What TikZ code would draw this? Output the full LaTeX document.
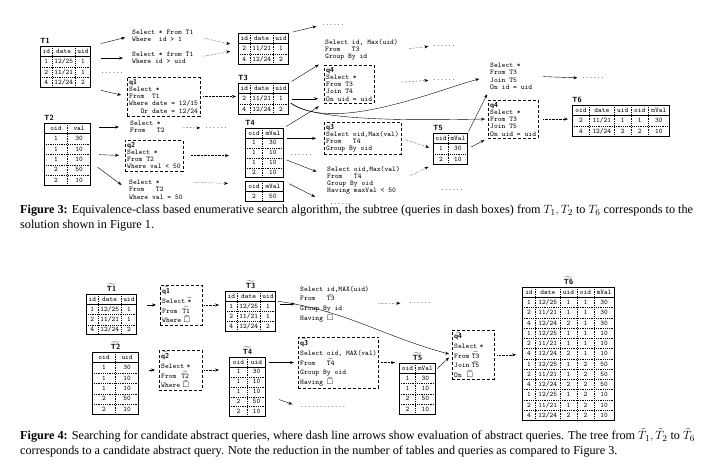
\documentclass[tikz,border=0pt]{standalone}
\usepackage{fontspec}
\setmainfont{Liberation Serif}
\usepackage{amsmath,amssymb}
\usepackage{arydshln}
\usepackage{tikz}
\usetikzlibrary{arrows.meta, positioning}

\newcommand{\tfont}{\ttfamily\fontsize{7}{10}\selectfont}
\newcommand{\qfont}{\ttfamily\fontsize{7.2}{7.2}\selectfont}
\newcommand{\qqfont}{\ttfamily\fontsize{7.2}{9.6}\selectfont}
\newcommand{\tb}[3]{{\setlength\tabcolsep{#1}\begin{tabular}{#2}#3\end{tabular}}}
\newcommand{\wt}[1]{\smash{\ensuremath{\widetilde{\text{#1}}}}}
\newcommand{\qn}[1]{{\sffamily\bfseries #1}}
\setlength\dashlinedash{0.8pt}
\setlength\dashlinegap{1pt}

\begin{document}
\begin{tikzpicture}[
    x=1pt, y=-1pt,
    tbl/.style={draw, line width=0.7pt, inner sep=0pt, font=\tfont, anchor=north west},
    qbox/.style={draw, densely dashed, inner sep=2pt, align=left, font=\qfont, anchor=north west},
    qqbox/.style={qbox, font=\qqfont},
    qtxt/.style={inner sep=1pt, align=left, font=\qfont, anchor=north west},
    qqtxt/.style={qtxt, font=\qqfont},
    lbl/.style={inner sep=0pt, font=\sffamily\bfseries\fontsize{7.5}{8}\selectfont},
    dots/.style={inner sep=0pt, font=\qfont},
    arr/.style={-{Stealth[length=4pt,width=3pt]}, thin},
    evl/.style={arr, densely dotted},
    captxt/.style={inner sep=0pt, anchor=north west, align=left, font=\fontsize{12.2}{15}\selectfont},
]
\useasboundingbox (0,0) rectangle (722,469);

% Figure 3
\node[tbl] (t1) at (40,46) {\tb{2.2pt}{c:c:c}{id&date&uid\\\hline 1&12/25&1\\\hdashline 2&11/21&1\\\hdashline 4&12/24&2}};
\node[lbl, above right=2pt and 0pt of t1.north west] (lt1) {T1};
\node[tbl] (t2) at (44,123) {\tb{6pt}{c:c}{oid&val\\\hline 1&30\\\hdashline 1&10\\\hdashline 1&10\\\hdashline 2&50\\\hdashline 2&10}};
\node[lbl, above right=2pt and 0pt of t2.north west] (lt2) {T2};

\node[qtxt] (s1) at (131,29) {Select * From T1\\Where~ id > 1};
\node[qtxt] (s2) at (131,51) {Select * from T1\\Where id > uid};
\node[dots] (m1) at (112,73) {......};
\node[qbox] (q1) at (127,77) {\qn{q1}\\Select *\\From~ T1\\Where date = 12/15\\~~~Or date = 12/24};
\node[qtxt] (s5) at (129,120) {Select *\\From~~ T2};
\node[dots] (m7) at (216,128) {......};
\node[qbox] (q2) at (125,140) {\qn{q2}\\Select *\\From T2\\Where val < 50};
\node[qtxt] (s7) at (128,179) {Select *\\From~~ T2\\Where val = 50};

\draw[arr, shorten <=10pt, shorten >=6pt] (t1.north east) -- (s1.west);
\draw[arr, shorten <=10pt, shorten >=8pt] (s2.west -| t1.east) -- (s2.west);
\draw[arr, shorten <=10pt, shorten >=6pt] (t1.south east) -- (q1.west);
\draw[arr, shorten <=8pt, shorten >=10pt] (s5.west -| t2.east) -- (s5.west);
\draw[arr, shorten <=8pt, shorten >=6pt] (t2.east) -- (q2.west);
\draw[arr, shorten <=8pt, shorten >=8pt] ([yshift=-8pt]t2.east) -- (s7.west);
\draw[evl, shorten <=16pt, shorten >=4pt] (s5.east) -- (m7.west);

\node[tbl] (r1) at (238,33) {\tb{2.2pt}{c:c:c}{id&date&uid\\\hline 2&11/21&1\\\hdashline 4&12/24&2}};
\node[dots] (m2) at (333,25) {......};
\draw[evl, shorten <=10pt, shorten >=8pt] (s1.east) -- ([yshift=3pt]r1.west);
\draw[evl, shorten <=10pt, shorten >=8pt] (s2.east) -- ([yshift=-1pt]r1.west);
\draw[arr, shorten <=4pt, shorten >=5pt] (r1.north east) -- (m2.west);

\node[tbl] (t3) at (238,83) {\tb{2.2pt}{c:c:c}{id&date&uid\\\hline 2&11/21&1\\\hdashline 4&12/24&2}};
\node[lbl, above right=2pt and 0pt of t3.north west] (lt3) {T3};
\draw[evl, shorten <=3pt, shorten >=2pt] (q1.east) -- (q1.east -| t3.west);

\node[tbl] (t4) at (245,128) {\renewcommand\arraystretch{0.95}\tb{3pt}{c:c}{oid&mVal\\\hline 1&30\\\hdashline 1&10\\\hdashline 1&10\\\hdashline 2&10}};
\node[lbl, above right=2pt and 0pt of t4.north west] (lt4) {T4};
\node[tbl] (r2) at (245,181) {\tb{3pt}{c:c}{oid&mVal\\\hline 2&50}};
\draw[evl, shorten <=8pt, shorten >=16pt] (q2.east) -- (q2.east -| t4.west);
\draw[evl, shorten <=10pt, shorten >=17pt] ([yshift=-3pt]s7.north east) -- ([yshift=-3pt]r2.north west);

\node[qtxt] (s3) at (324,38) {Select id, Max(uid)\\From~~ T3\\Group By id};
\node[qbox] (q4a) at (324,65) {\qn{q4}\\Select *\\From T3\\Join T4\\On uid = uid};
\node[qbox] (q3) at (324,122) {\qn{q3}\\Select oid,Max(val)\\From~~ T4\\Group By oid};
\node[qtxt] (s4) at (326,165) {Select oid,Max(val)\\From~~ T4\\Group By oid\\Having maxVal < 50};
\node[dots] (m3) at (444,46) {......};
\node[dots] (m4) at (444,80) {......};
\node[dots] (m5) at (301,155) {......};
\node[dots] (m6) at (341,204) {......};
\node[dots] (m8) at (452,190) {......};

\draw[arr, shorten <=3pt, shorten >=6pt] (t3.north east) -- (s3.south west);
\draw[arr, shorten <=3pt, shorten >=6pt] (t3.east) -- (t3.east -| q4a.west);
\draw[arr, shorten <=3pt, shorten >=6pt] (t4.north east) -- (q4a.south west);
\draw[arr, shorten <=3pt, shorten >=8pt] (q3.west -| t4.east) -- (q3.west);
\draw[arr, shorten <=3pt, shorten >=10pt] ([yshift=-6pt]t4.east) -- ([yshift=5pt]s4.west);
\draw[arr, shorten <=6pt, shorten >=16pt] (r2.north east) -- (m6.west);
\draw[evl, shorten <=10pt, shorten >=4pt] (s3.east) -- (m3.west);
\draw[evl, shorten <=28pt, shorten >=4pt] (q4a.east) -- (m4.west);

\node[tbl] (t5) at (433,133) {\tb{2pt}{c:c}{oid&mVal\\\hline 1&30\\\hdashline 2&10}};
\node[lbl, above right=2pt and 0pt of t5.north west] (lt5) {T5};
\draw[evl, shorten <=4pt, shorten >=4pt] (q3.east) -- (t5.west);
\draw[evl, shorten <=10pt, shorten >=5pt] (s4.east) -- (t5.south west);

\node[qtxt] (s6) at (489,62) {Select *\\From T3\\Join T5\\On id = uid};
\node[qbox] (q4b) at (488,100) {\qn{q4}\\Select *\\From T3\\Join T5\\On uid = uid};
\node[dots] (m9) at (593,78) {......};
\draw[arr, shorten <=2pt, shorten >=4pt] (t5.north east) -- (s6.south west);
\draw[arr, shorten <=4pt, shorten >=4pt] (t5.east) -- (q4b.south west);
\draw[arr, shorten <=2pt, shorten >=10pt] ([yshift=-3pt]t3.east) to[out=-35, in=195, looseness=0.7] (s6.west);
\draw[arr, shorten <=2pt, shorten >=3pt] ([yshift=-3pt]t3.east) to[out=-40, in=180, looseness=0.45] (q4b.west);
\draw[arr, shorten <=10pt, shorten >=4pt] (s6.east) -- (m9.west);

\node[tbl] (t6) at (572,105) {\tb{3pt}{c:c:c:c:c}{oid&date&uid&oid&mVal\\\hline 2&11/21&1&1&30\\\hdashline 4&12/24&2&2&10}};
\node[lbl, above right=2pt and 0pt of t6.north west] (lt6) {T6};
\draw[evl, shorten <=5pt, shorten >=4pt] (q4b.east) -- (q4b.east -| t6.west);

\node[captxt] (c3) at (20,205) {\textbf{Figure 3:} Equivalence-class based enumerative search algorithm, the subtree (queries in dash boxes) from $T_1, T_2$ to $T_6$ corresponds to the\\solution shown in Figure 1.};

% Figure 4
\node[tbl] (u1) at (86,294) {\renewcommand\arraystretch{0.98}\tb{2.2pt}{c:c:c}{id&date&uid\\\hline 1&12/25&1\\\hdashline 2&11/21&1\\\hdashline 4&12/24&2}};
\node[lbl, above=2pt of u1] (lu1) {\wt{T1}};
\node[tbl] (u2) at (92,352) {\tb{6pt}{c:c}{oid&uid\\\hline 1&30\\\hdashline 1&10\\\hdashline 1&10\\\hdashline 2&50\\\hdashline 2&10}};
\node[lbl, above=2pt of u2] (lu2) {\wt{T2}};

\node[qqbox, text width=38pt] (p1) at (160,285) {\strut\wt{\qn{q1}}\\Select \wt{*}\\From~ \wt{T1}\\Where \wt{$\square$}};
\node[qqbox, text width=39pt] (p2) at (159,350) {\strut\wt{\qn{q2}}\\Select *\\From~ \wt{T2}\\Where \wt{$\square$}};
\draw[arr, shorten <=10pt, shorten >=4pt] (p1.west -| u1.east) -- (p1.west);
\draw[arr, shorten <=10pt, shorten >=4pt] (p2.west -| u2.east) -- (p2.west);

\node[tbl] (u3) at (225,291) {\renewcommand\arraystretch{0.97}\tb{2.2pt}{c:c:c}{id&date&uid\\\hline 1&12/25&1\\\hdashline 2&11/21&1\\\hdashline 4&12/24&2}};
\node[lbl, above=2pt of u3] (lu3) {\wt{T3}};
\node[tbl] (u4) at (229,357) {\renewcommand\arraystretch{0.95}\tb{3.5pt}{c:c}{oid&uid\\\hline 1&30\\\hdashline 1&10\\\hdashline 1&10\\\hdashline 2&50\\\hdashline 2&10}};
\node[lbl, above=2pt of u4] (lu4) {\wt{T4}};
\draw[evl, shorten <=2pt, shorten >=6pt] (p1.east) -- (p1.east -| u3.west);
\draw[evl, shorten <=2pt, shorten >=10pt] (p2.east) -- (p2.east -| u4.west);

\node[qqtxt] (v1) at (299,285) {Select id,MAX(uid)\\From~~ \wt{T3}\\Group By id\\Having $\square$};
\node[qqbox] (p3) at (298,337) {\strut\wt{\qn{q3}}\\Select oid, MAX(val)\\From~~ \wt{T4}\\Group By oid\\Having \wt{$\square$}};
\node[dots] (n1) at (420,303) {......};
\node[dots] (n2) at (323,407) {............};
\draw[arr, shorten <=4pt, shorten >=4pt] (v1.west -| u3.east) -- (v1.west);
\draw[evl, shorten <=8pt, shorten >=8pt] (v1.east) -- (n1.west);
\draw[arr, shorten <=3pt, shorten >=4pt] (p3.west -| u4.east) -- (p3.west);
\draw[arr, shorten <=14pt, shorten >=8pt] ([yshift=-8pt]u4.east) -- (n2.west);

\node[tbl] (u5) at (399,363) {\renewcommand\arraystretch{0.98}\tb{2.5pt}{c:c}{oid&mVal\\\hline 1&30\\\hdashline 1&10\\\hdashline 2&50\\\hdashline 2&10}};
\node[lbl, above=2pt of u5] (lu5) {\wt{T5}};
\draw[evl, shorten <=2pt, shorten >=4pt] (p3.east) -- (p3.east -| u5.west);

\node[qqbox, text width=38pt] (p4) at (452,330) {\strut\wt{\qn{q4}}\\Select *\\From \wt{T3}\\Join \wt{T5}\\On~ \wt{$\square$}};
\draw[arr, shorten <=2pt, shorten >=3pt] ([yshift=-10pt]u3.north east) to[out=-8, in=165] (p4.west);
\draw[arr, shorten <=2pt, shorten >=4pt] ([yshift=-7pt]u5.north east) -- (p4.west);

\node[tbl] (u6) at (522,287) {\renewcommand\arraystretch{0.985}\tb{2.9pt}{c:c:c:c:c}{id&date&uid&oid&mVal\\\hline
1&12/25&1&1&30\\\hdashline 2&11/21&1&1&30\\\hdashline 4&12/24&2&1&30\\\hdashline
1&12/25&1&1&10\\\hdashline 2&11/21&1&1&10\\\hdashline 4&12/24&2&1&10\\\hdashline
1&12/25&1&2&50\\\hdashline 2&11/21&1&2&50\\\hdashline 4&12/24&2&2&50\\\hdashline
1&12/25&1&2&10\\\hdashline 2&11/21&1&2&10\\\hdashline 4&12/24&2&2&10}};
\node[lbl, above=2pt of u6] (lu6) {\wt{T6}};
\draw[evl, shorten <=3pt, shorten >=6pt] (p4.east) -- (p4.east -| u6.west);

\node[captxt] (c4) at (20,428) {\textbf{Figure 4:} Searching for candidate abstract queries, where dash line arrows show evaluation of abstract queries. The tree from $\tilde{T}_1, \tilde{T}_2$ to $\tilde{T}_6$\\corresponds to a candidate abstract query. Note the reduction in the number of tables and queries as compared to Figure 3.};
\end{tikzpicture}
\end{document}
